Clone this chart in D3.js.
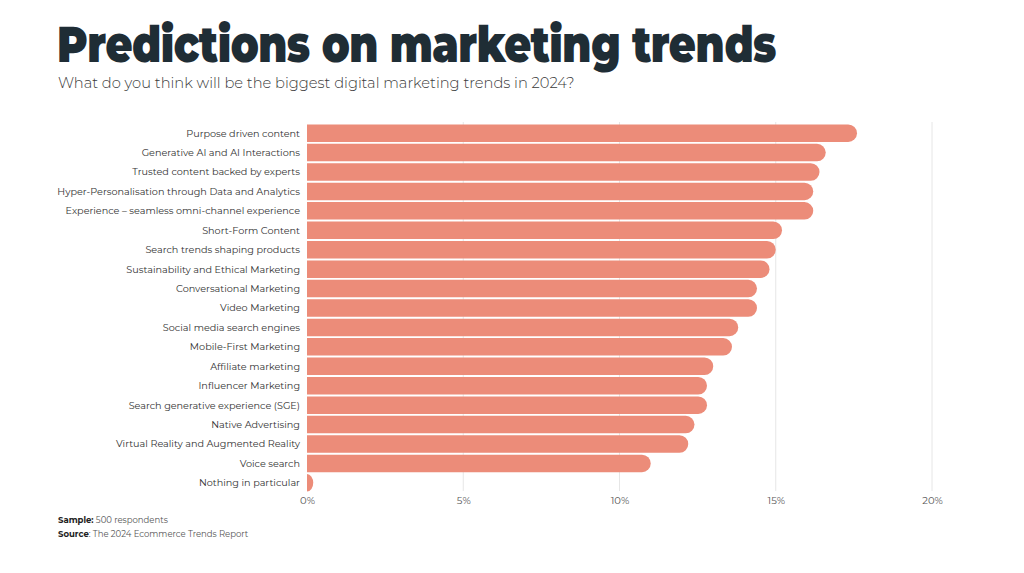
<!DOCTYPE html>
<html><head><meta charset="utf-8">
<script src="https://cdn.jsdelivr.net/npm/d3@7"></script>
<style>
html,body{margin:0;padding:0;background:#fff;}
svg{display:block;}
</style></head>
<body>
<svg id="chart" width="1024" height="573"></svg>
<script>
const categories = [
  "Purpose driven content",
  "Generative AI and AI Interactions",
  "Trusted content backed by experts",
  "Hyper-Personalisation through Data and Analytics",
  "Experience – seamless omni-channel experience",
  "Short-Form Content",
  "Search trends shaping products",
  "Sustainability and Ethical Marketing",
  "Conversational Marketing",
  "Video Marketing",
  "Social media search engines",
  "Mobile-First Marketing",
  "Affiliate marketing",
  "Influencer Marketing",
  "Search generative experience (SGE)",
  "Native Advertising",
  "Virtual Reality and Augmented Reality",
  "Voice search",
  "Nothing in particular"
];
const values = [17.6, 16.6, 16.4, 16.2, 16.2, 15.2, 15.0, 14.8, 14.4, 14.4, 13.8, 13.6, 13.0, 12.8, 12.8, 12.4, 12.2, 11.0, 0.2];
const xTicks = [0, 5, 10, 15, 20];
const titleText = "Predictions on marketing trends";
const subtitleText = "What do you think will be the biggest digital marketing trends in 2024?";

const svg = d3.select("#chart");
const font = "Montserrat, Inter, 'Open Sans', sans-serif";

// title
const title = svg.append("text")
  .attr("transform", "translate(57,62) scale(1,1.2)")
  .attr("font-family", font).attr("font-weight", 900)
  .attr("font-size", 52).attr("fill", "#1f2d35")
  .attr("letter-spacing", "-0.5")
  .text(titleText);
const tw = title.node().getComputedTextLength();
title.attr("font-size", 52 * 722 / tw);

const sub = svg.append("text")
  .attr("transform", "translate(58,88) scale(1,1.08)")
  .attr("font-family", font).attr("font-weight", 300)
  .attr("font-size", 17).attr("fill", "#3a3a3a")
  .text(subtitleText);
const sw = sub.node().getComputedTextLength();
sub.attr("font-size", 17 * 517 / sw);

// scales
const x = d3.scaleLinear().domain([0, 20]).range([307, 932]);
const y = d3.scaleBand().domain(categories).range([124, 492]).paddingInner(0.1).paddingOuter(0.02);

// gridlines
svg.append("g").selectAll("line").data(xTicks.filter(d => d > 0)).join("line")
  .attr("x1", d => x(d)).attr("x2", d => x(d))
  .attr("y1", 122).attr("y2", 491)
  .attr("stroke", "#e6e6e6").attr("stroke-width", 1);

// bars
const h = y.bandwidth();
svg.append("g").selectAll("path").data(categories).join("path")
  .attr("d", (c, i) => {
    const x0 = x(0), x1 = x(values[i]);
    const y0 = y(c), y1 = y0 + h;
    const r = Math.min(h / 2, x1 - x0);
    return `M${x0},${y0} H${x1 - r} A${r},${h/2} 0 0 1 ${x1 - r},${y1} H${x0} Z`;
  })
  .attr("fill", "#ec8c79");

// category labels
const labels = svg.append("g").selectAll("text").data(categories).join("text")
  .attr("x", 300).attr("y", c => y(c) + h / 2)
  .attr("dy", "0.35em").attr("text-anchor", "end")
  .attr("font-family", font).attr("font-weight", 400).attr("font-size", 10.8).attr("fill", "#333")
  .text(c => c);
const maxW = d3.max(labels.nodes(), n => n.getComputedTextLength());
labels.attr("font-size", 10.8 * 243 / maxW);

// x axis labels
const axis = d3.axisBottom(x).tickValues(xTicks).tickFormat(d => d + "%").tickSize(0).tickPadding(0);
const ax = svg.append("g").attr("transform", "translate(0,497)").call(axis);
ax.select(".domain").remove();
ax.selectAll("text").attr("font-family", font).attr("font-size", 10).attr("fill", "#555").attr("dy", "0.71em");

// footnotes
const f1 = svg.append("text").attr("x", 58).attr("y", 523).attr("font-family", font).attr("font-size", 8.5).attr("fill", "#333");
f1.append("tspan").attr("font-weight", 700).attr("fill", "#222").text("Sample:");
f1.append("tspan").attr("fill", "#555").text(" 500 respondents");
const f2 = svg.append("text").attr("x", 58).attr("y", 537).attr("font-family", font).attr("font-size", 8.5).attr("fill", "#333");
f2.append("tspan").attr("font-weight", 700).attr("fill", "#222").text("Source");
f2.append("tspan").attr("fill", "#555").text(": The 2024 Ecommerce Trends Report");
</script>
</body></html>
